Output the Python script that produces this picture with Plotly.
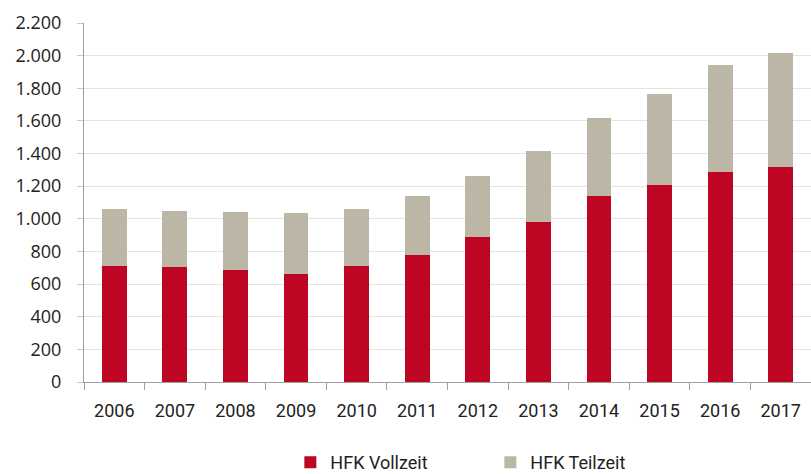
import plotly.graph_objects as go

years = ["2006", "2007", "2008", "2009", "2010", "2011", "2012", "2013", "2014", "2015", "2016", "2017"]
vollzeit = [708, 703, 687, 660, 708, 780, 887, 980, 1141, 1205, 1285, 1315]
teilzeit = [354, 347, 353, 376, 354, 360, 376, 438, 477, 557, 656, 701]
y_ticks = [0, 200, 400, 600, 800, 1000, 1200, 1400, 1600, 1800, 2000, 2200]

cond = "Roboto, DejaVu Sans Condensed, sans-serif"

fig = go.Figure()
fig.add_trace(go.Bar(x=years, y=vollzeit, name="HFK Vollzeit",
                     marker=dict(color="#be0523", line=dict(width=0))))
fig.add_trace(go.Bar(x=years, y=teilzeit, name="HFK Teilzeit",
                     marker=dict(color="#bcb6a6", line=dict(width=0))))

fig.update_layout(
    barmode="stack",
    bargap=0.59,
    width=811, height=474,
    margin=dict(l=84, r=0, t=23, b=92),
    paper_bgcolor="white", plot_bgcolor="white",
    separators=",.",
    font=dict(family=cond, size=17, color="#222222"),
    legend=dict(orientation="h", xref="container", yref="container",
                x=0.358, xanchor="left", y=0.024, yanchor="middle",
                traceorder="normal",
                entrywidth=155, entrywidthmode="pixels",
                font=dict(family=cond, size=18)),
    showlegend=True,
)
fig.update_xaxes(
    automargin=False,
    showline=True, linecolor="#a0a0a0", linewidth=1,
    ticks="outside", tickson="boundaries", ticklen=7, tickcolor="#a0a0a0",
    ticklabelstandoff=12,
    showgrid=False,
    tickfont=dict(family=cond, size=18),
)
fig.update_yaxes(
    automargin=False,
    range=[0, 2200], tickvals=y_ticks, tickformat=",d",
    showline=True, linecolor="#a0a0a0", linewidth=1,
    ticks="outside", ticklen=6, tickcolor="#c8c8c8",
    ticklabelstandoff=12,
    showgrid=True, gridcolor="#e6e4de", gridwidth=1,
    zeroline=False,
    tickfont=dict(family="Open Sans, Noto Sans, sans-serif", size=18),
)
fig.write_html("out.html", config={"displayModeBar": False},
               post_script="document.body.style.margin='0px';document.body.style.overflow='hidden';")
